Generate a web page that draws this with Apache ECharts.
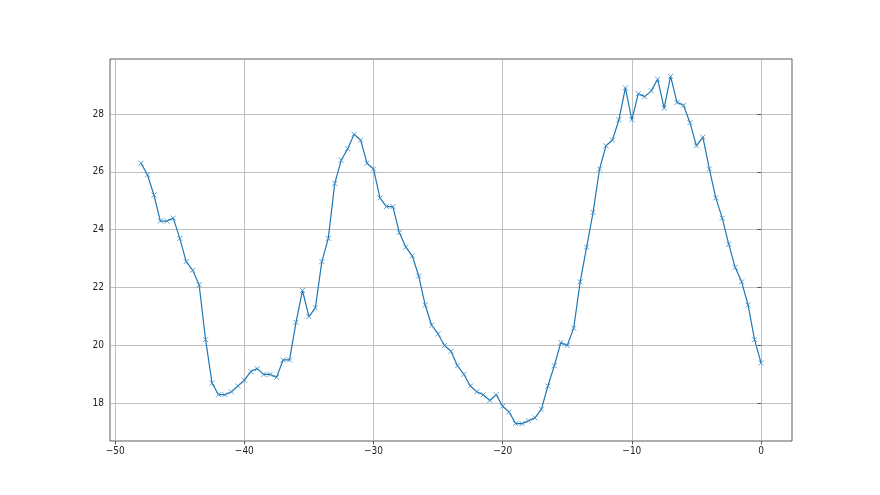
<!DOCTYPE html>
<html>
<head>
<meta charset="utf-8">
<script src="https://cdn.jsdelivr.net/npm/echarts@6/dist/echarts.min.js"></script>
<style>html,body{margin:0;padding:0;background:#fff}#c{width:880px;height:495px}</style>
</head>
<body>
<div id="c"></div>
<script>
const xStart = -48, xStep = 0.5;
const yValues = [
 26.3, 25.9, 25.2, 24.3, 24.3, 24.4, 23.7, 22.9, 22.6, 22.1,
 20.2, 18.7, 18.3, 18.3, 18.4, 18.6, 18.8, 19.1, 19.2, 19.0,
 19.0, 18.9, 19.5, 19.5, 20.8, 21.9, 21.0, 21.3, 22.9, 23.7,
 25.6, 26.4, 26.8, 27.3, 27.1, 26.3, 26.1, 25.1, 24.8, 24.8,
 23.9, 23.4, 23.1, 22.4, 21.4, 20.7, 20.4, 20.0, 19.8, 19.3,
 19.0, 18.6, 18.4, 18.3, 18.1, 18.3, 17.9, 17.7, 17.3, 17.3,
 17.4, 17.5, 17.8, 18.6, 19.3, 20.1, 20.0, 20.6, 22.2, 23.4,
 24.6, 26.1, 26.9, 27.1, 27.8, 28.9, 27.8, 28.7, 28.6, 28.8,
 29.2, 28.2, 29.3, 28.4, 28.3, 27.7, 26.9, 27.2, 26.1, 25.1,
 24.4, 23.5, 22.7, 22.2, 21.4, 20.2, 19.4
];
const xValues = yValues.map((_, i) => xStart + i * xStep);
const xTicks = [-50, -40, -30, -20, -10, 0];
const yTicks = [18, 20, 22, 24, 26, 28];

const data = xValues.map((x, i) => [x, yValues[i]]);
const fmt = v => String(v).replace('-', '\u2212');
const tickFont = {fontFamily: '"Liberation Sans Narrow", "DejaVu Sans Condensed", "DejaVu Sans"', fontSize: 10, color: '#222'};

const chart = echarts.init(document.getElementById('c'), null, {renderer: 'canvas'});
chart.setOption({
  animation: false,
  backgroundColor: '#fff',
  grid: {left: 110, top: 59, width: 682, height: 382, show: true,
         borderColor: '#333', borderWidth: 0.8, backgroundColor: 'transparent'},
  xAxis: {
    type: 'value', min: -50.4, max: 2.4,
    axisLine: {show: false},
    axisTick: {show: true, inside: false, length: 3.5, customValues: xTicks,
               lineStyle: {color: '#333', width: 0.8}},
    axisLabel: Object.assign({customValues: xTicks, formatter: fmt, margin: 5}, tickFont),
    splitLine: {show: true, lineStyle: {color: '#b0b0b0', width: 0.8}}
  },
  yAxis: {
    type: 'value', min: 16.7, max: 29.9,
    axisLine: {show: false},
    axisTick: {show: true, inside: false, length: 3.5, customValues: yTicks,
               lineStyle: {color: '#333', width: 0.8}},
    axisLabel: Object.assign({customValues: yTicks, formatter: fmt, margin: 6}, tickFont),
    splitLine: {show: true, lineStyle: {color: '#b0b0b0', width: 0.8}}
  },
  series: [{
    type: 'line',
    data: data,
    showAllSymbol: true,
    symbol: 'path://M0,0L10,10M10,0L0,10',
    symbolSize: 5,
    lineStyle: {color: '#1f77b4', width: 1.2},
    itemStyle: {color: 'rgba(0,0,0,0)', borderColor: '#3a8ac4', borderWidth: 0.8},
    emphasis: {disabled: true},
    z: 3
  }]
});
</script>
</body>
</html>
